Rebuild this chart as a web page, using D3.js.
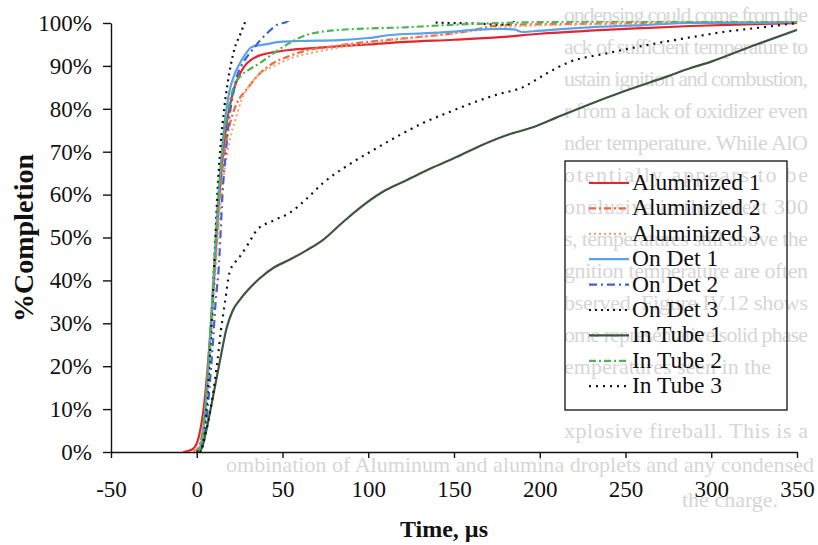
<!DOCTYPE html>
<html>
<head>
<meta charset="utf-8">
<title>Completion vs time</title>
<style>
  html, body { margin: 0; padding: 0; background: #fff; }
  svg { display: block; }
  text { font-family: "Liberation Serif", "Times New Roman", serif; fill: #111; }
  .axis path, .axis line { stroke: #111; stroke-width: 1.4; }
  .axis text { font-size: 23px; font-family: "Liberation Serif", serif; fill: #111; }
  .ghost { fill: #d6d6d6; font-size: 22px; }
</style>
</head>
<body>
<svg id="chart" width="818" height="545"></svg>
<script src="https://cdn.jsdelivr.net/npm/d3@7"></script>
<script>
// ---- data: [time (us), % completion] ----
var aluminized1 = [[-8,0],[-3,0.5],[0,2],[2,5],[4,10],[6,18],[8,28],[10,40],[12,53],[14,64],[16,72],[18,78],[20,82],[22,85],[25,88],[28,90],[32,91.5],[37,92.5],[45,93.2],[54,93.7],[70,94.2],[84,94.6],[100,95],[122,95.6],[150,96.1],[177,96.7],[200,97.5],[229,98.2],[260,98.8],[288,99.3],[320,99.7],[350,100]];
var aluminized2 = [[-2,0],[1,1],[3,4],[5,10],[7,20],[9,32],[11,45],[13,57],[15,66],[17,72],[19,76],[22,80],[25,82.5],[28,84],[31,85.5],[35,87.5],[44,90.5],[54,92.3],[64,93.6],[80,94.6],[93,95.3],[110,96],[123,96.5],[146,97.4],[161,98.3],[173,99.3],[185,99.6],[220,99.8],[260,100],[300,100.2],[350,100.3]];
var aluminized3 = [[-1,0],[2,2],[4,6],[6,13],[8,24],[10,36],[12,48],[14,58],[16,65],[18,70],[20,74],[23,78],[26,82],[30,85],[35,87.5],[45,90],[55,91.8],[70,93.3],[90,94.8],[110,95.8],[130,96.7],[150,97.6],[170,98.6],[190,99.3],[230,99.7],[280,100],[350,100.2]];
var onDet1 = [[0,0],[2,1],[4,6],[6,15],[8,28],[10,42],[12,56],[14,67],[16.3,77],[19,84],[22,88],[25,90.5],[28,92.5],[32,94.4],[40,95],[48.5,95.6],[60,95.8],[83,96],[100,96.5],[113,97.2],[132,97.6],[150,98],[161,98.4],[177,98.6],[185,98.5],[190,97.9],[200,98.2],[229,99],[260,99.5],[288,100],[320,100],[350,100.3]];
var onDet2 = [[1,0],[3,1],[5,5],[7,13],[9.5,26],[11,35],[13,44],[14,52],[15,60],[17,70],[19,78],[21,83],[23,87],[26,90],[30,92.5],[33,94],[37,96],[41,97.6],[46.5,99.5],[52,100.2],[58,101.5],[80,102],[350,102]];
var onDet3 = [[2,0],[4,3],[6,12],[8,25],[10,42],[12,60],[14,72],[16,80],[18,86],[20,90.5],[22,94],[25,97],[28,100],[30,101.5],[135,101.5],[140,100.1],[160,99.9],[180,99.6],[185,100.5],[190,101.5],[350,101.5]];
var inTube1 = [[0,0],[3,1],[5,4],[7.6,9],[10,14],[13.4,21],[17.5,29],[21,33],[25,35.4],[30,37.8],[36.8,40.5],[45,43],[54,44.8],[64,47],[73.5,49.4],[85,53.5],[97,57.5],[110,61],[122.6,63.4],[136,66],[151.8,68.8],[166,71.5],[181,73.9],[196,75.7],[210,78],[228,80.9],[250,84.2],[274,87.5],[288,89.5],[300,91],[325,94.8],[350,98.4]];
var inTube2 = [[0,0],[2,1],[4,6],[6,16],[8,29],[10,42],[12,55],[14,66],[16,74],[18,79],[20,83],[22,85.5],[25,87.4],[30,89],[37,90.7],[45,93],[54,95.3],[64,97.2],[83.5,98.4],[122,99],[150,99.6],[177,100],[220,100.3],[280,100.4],[350,100.4]];
var inTube3 = [[0,0],[3,1],[5,4],[7.6,9],[10,15],[12,21],[14,28],[16.5,35],[19,41.7],[22,44],[25,45.5],[30,48.5],[35,51.7],[45,54],[54,55.7],[64,59],[73.6,62.7],[88,66.8],[103,70.4],[118,73.8],[132,76.7],[147,79.2],[161,81.4],[175,83.3],[190,85],[203,88],[216,90.7],[240,93],[268.5,95.3],[290,96.8],[307,97.9],[330,99],[350,100]];

var seriesNames = ["Aluminized 1","Aluminized 2","Aluminized 3","On Det 1","On Det 2","On Det 3","In Tube 1","In Tube 2","In Tube 3"];
var seriesData = [aluminized1, aluminized2, aluminized3, onDet1, onDet2, onDet3, inTube1, inTube2, inTube3];
var seriesColor = ["#e0262f","#ec6a3c","#f2a276","#5aa2e8","#3c63d4","#111111","#3d553d","#4db454","#111111"];
var seriesDash = [null,"7,3,2,3","2,3",null,"8,4,2,4","2,4",null,"7,3,2,3","2,5"];

var xTicks = [-50,0,50,100,150,200,250,300,350];
var yTicks = [0,10,20,30,40,50,60,70,80,90,100];

// faint text bleeding through from the scanned page
var ghostLines = ["ondensing could come from the","ack of sufficient temperature to","ustain ignition and combustion,","r from a lack of oxidizer even","nder temperature. While AlO","otentially appears to be","onclusive in the latest 300","s, temperatures still above the","gnition temperature are often","bserved. Figure IV.12 shows","ome representative solid phase","emperatures seen in the"];

var svg = d3.select("#chart");
var plotLeft = 111, plotRight = 797, plotTop = 23, plotBottom = 452;

var x = d3.scaleLinear().domain([-50, 350]).range([plotLeft, plotRight]);
var y = d3.scaleLinear().domain([0, 100]).range([plotBottom, plotTop]);

// ghost text behind
var ghost = svg.append("g");
ghost.selectAll("text.gl").data(ghostLines).enter().append("text")
    .attr("class", "ghost gl")
    .attr("x", 564)
    .attr("y", function(d, i) { return 22 + 32 * i; })
    .attr("textLength", function(d, i) { return i == 11 ? null : 244; })
    .attr("lengthAdjust", "spacing")
    .text(function(d) { return d; });
ghost.append("text").attr("class", "ghost").attr("x", 564).attr("y", 438)
    .attr("textLength", 244).attr("lengthAdjust", "spacing")
    .text("xplosive fireball. This is a");
ghost.append("text").attr("class", "ghost").attr("x", 226).attr("y", 472)
    .attr("textLength", 588).attr("lengthAdjust", "spacing")
    .text("ombination of Aluminum and alumina droplets and any condensed");
ghost.append("text").attr("class", "ghost").attr("x", 682).attr("y", 507)
    .text("the charge.");

// axes
svg.append("g").attr("class", "axis")
    .attr("transform", "translate(" + plotLeft + ",0)")
    .call(d3.axisLeft(y).tickValues(yTicks).tickSize(8).tickSizeOuter(0).tickPadding(11)
        .tickFormat(function(d) { return d + "%"; }));

svg.append("g").attr("class", "axis")
    .attr("transform", "translate(0," + plotBottom + ")")
    .call(d3.axisBottom(x).tickValues(xTicks).tickSize(6).tickSizeOuter(0).tickPadding(23)
        .tickFormat(function(d) { return d; }));

// lines
svg.append("clipPath").attr("id", "plotclip").append("rect")
    .attr("x", plotLeft).attr("y", plotTop - 2)
    .attr("width", plotRight - plotLeft + 2).attr("height", plotBottom - plotTop + 2);

var line = d3.line()
    .x(function(d) { return x(d[0]); })
    .y(function(d) { return y(d[1]); })
    .curve(d3.curveMonotoneX);

svg.append("g").attr("clip-path", "url(#plotclip)")
    .selectAll("path").data(seriesData).enter().append("path")
    .attr("d", line)
    .attr("fill", "none")
    .attr("stroke", function(d, i) { return seriesColor[i]; })
    .attr("stroke-width", 2.2)
    .attr("stroke-dasharray", function(d, i) { return seriesDash[i]; });

// axis titles
svg.append("text")
    .attr("transform", "translate(33,238) rotate(-90)")
    .attr("text-anchor", "middle")
    .attr("font-weight", "bold")
    .attr("font-size", 28)
    .text("%Completion");

svg.append("text")
    .attr("x", 444).attr("y", 537)
    .attr("text-anchor", "middle")
    .attr("font-weight", "bold")
    .attr("font-size", 24)
    .text("Time, \u00b5s");

// legend
var legend = svg.append("g");
legend.append("rect")
    .attr("x", 565).attr("y", 161).attr("width", 222).attr("height", 249)
    .attr("fill", "none").attr("stroke", "#111").attr("stroke-width", 1.3);

var rows = legend.selectAll("g.row").data(seriesNames).enter().append("g")
    .attr("class", "row")
    .attr("transform", function(d, i) { return "translate(0," + (182 + 25.4 * i) + ")"; });

rows.append("line")
    .attr("x1", 589).attr("x2", 629).attr("y1", 1).attr("y2", 1)
    .attr("stroke", function(d, i) { return seriesColor[i]; })
    .attr("stroke-width", 2.2)
    .attr("stroke-dasharray", function(d, i) { return seriesDash[i]; });

rows.append("text")
    .attr("x", 632).attr("y", 8)
    .attr("font-size", 23.5)
    .text(function(d) { return d; });
</script>
</body>
</html>
